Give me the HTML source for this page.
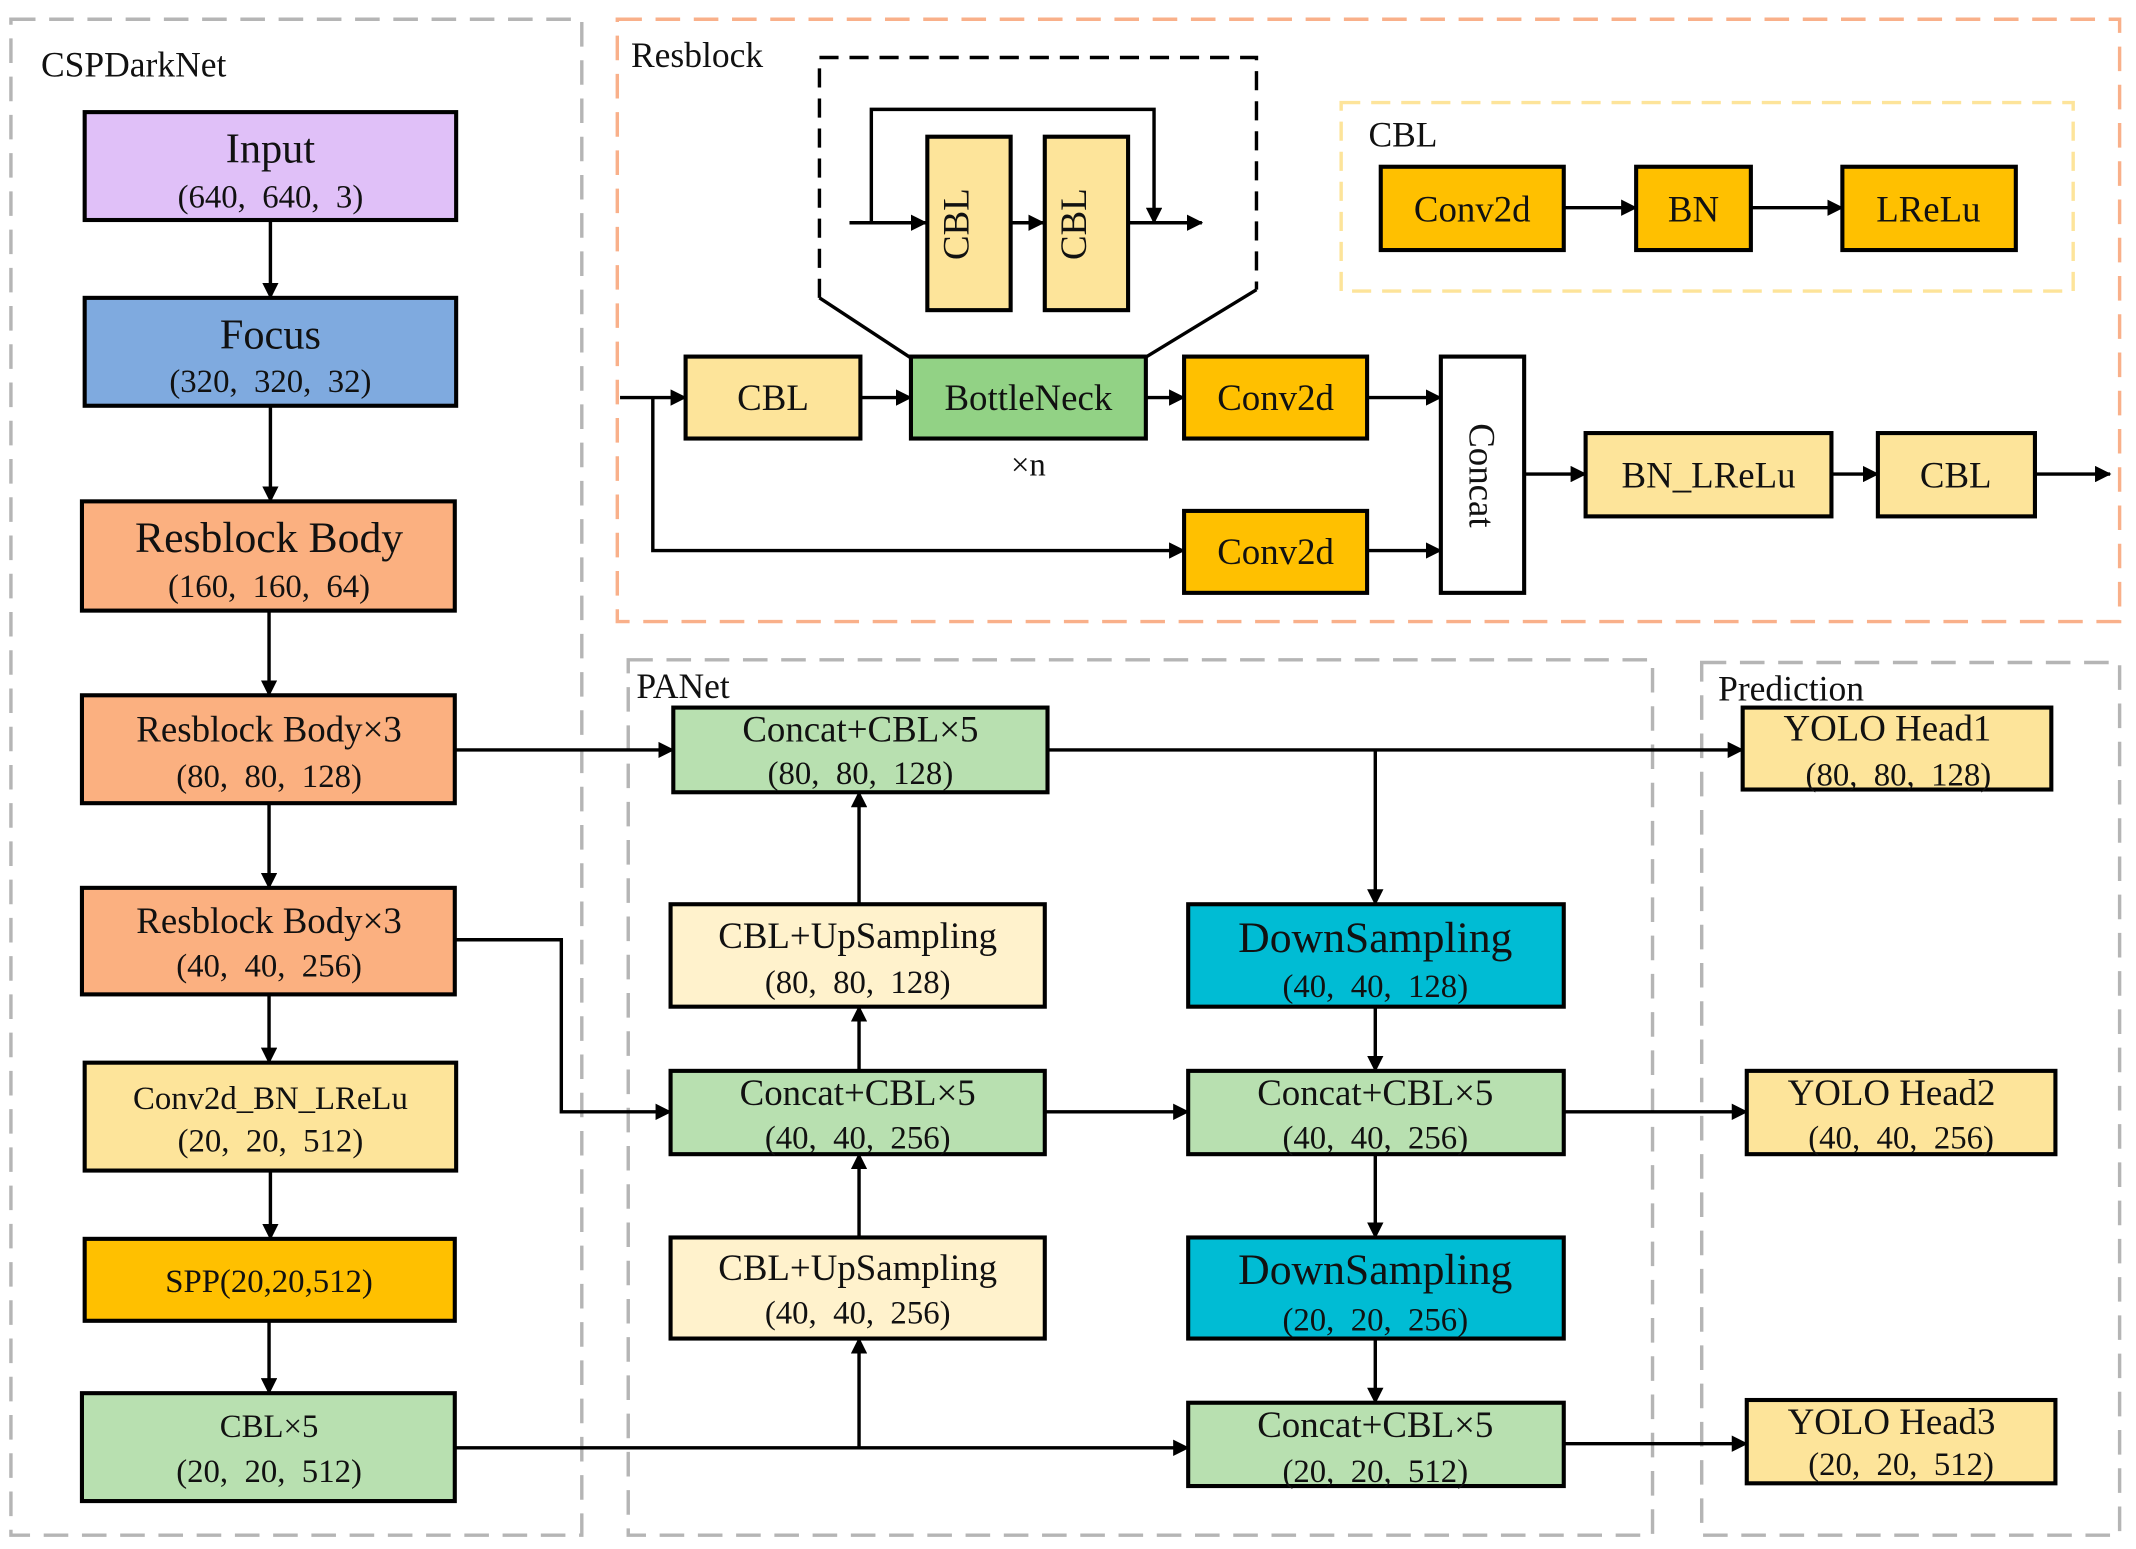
<!DOCTYPE html>
<html><head><meta charset="utf-8"><style>
html,body{margin:0;padding:0;background:#fff}
svg{display:block}
text{font-family:"Liberation Serif","Noto Serif CJK SC",serif;fill:#111;white-space:pre}
</style></head><body>
<svg width="2136" height="1549" viewBox="0 0 1564 1134" xmlns="http://www.w3.org/2000/svg" xml:space="preserve">
<defs>
<marker id="a" markerWidth="12" markerHeight="12" refX="11" refY="6" orient="auto" markerUnits="userSpaceOnUse">
<path d="M0,0 L12,6 L0,12 z" fill="#000"/></marker>
</defs>
<g fill="none" stroke-width="2.5">
<rect x="8" y="14" width="418" height="1110" stroke="#b5b5b5" stroke-dasharray="18,10"/>
<rect x="452" y="14" width="1100" height="441" stroke="#f9b08a" stroke-dasharray="18,10"/>
<rect x="460" y="483" width="750" height="641" stroke="#b5b5b5" stroke-dasharray="18,10"/>
<rect x="1246" y="485" width="306" height="639" stroke="#b5b5b5" stroke-dasharray="18,10"/>
<rect x="982" y="75" width="536" height="138" stroke="#fde49a" stroke-dasharray="14,8"/>
<path d="M600,218 L600,42 L920,42 L920,212" stroke="#000" stroke-dasharray="14,8"/>
<path d="M667,262 L600,218 M920,212 L838,262" stroke="#000"/>
</g>
<g font-size="26">
<text x="30" y="56">CSPDarkNet</text>
<text x="462" y="49">Resblock</text>
<text x="1002" y="107">CBL</text>
<text x="466" y="511">PANet</text>
<text x="1258" y="513">Prediction</text>
</g>
<g stroke="#000" stroke-width="3">
<rect x="62" y="82" width="272" height="79" fill="#e0c0f8"/>
<rect x="62" y="218" width="272" height="79" fill="#7faadf"/>
<rect x="60" y="367" width="273" height="80" fill="#fbb080"/>
<rect x="60" y="509" width="273" height="79" fill="#fbb080"/>
<rect x="60" y="650" width="273" height="78" fill="#fbb080"/>
<rect x="62" y="778" width="272" height="79" fill="#fde49a"/>
<rect x="62" y="907" width="271" height="60" fill="#ffc000"/>
<rect x="60" y="1020" width="273" height="79" fill="#b8e0b0"/>
<rect x="679" y="100" width="61" height="127" fill="#fde49a"/>
<rect x="765" y="100" width="61" height="127" fill="#fde49a"/>
<rect x="502" y="261" width="128" height="60" fill="#fde49a"/>
<rect x="667" y="261" width="172" height="60" fill="#92d285"/>
<rect x="867" y="261" width="134" height="60" fill="#ffc000"/>
<rect x="867" y="374" width="134" height="60" fill="#ffc000"/>
<rect x="1055" y="261" width="61" height="173" fill="#fff"/>
<rect x="1161" y="317" width="180" height="61" fill="#fde49a"/>
<rect x="1375" y="317" width="115" height="61" fill="#fde49a"/>
<rect x="1011" y="122" width="134" height="61" fill="#ffc000"/>
<rect x="1198" y="122" width="84" height="61" fill="#ffc000"/>
<rect x="1349" y="122" width="127" height="61" fill="#ffc000"/>
<rect x="493" y="518" width="274" height="62" fill="#b8e0b0"/>
<rect x="491" y="662" width="274" height="75" fill="#fff2cc"/>
<rect x="491" y="784" width="274" height="61" fill="#b8e0b0"/>
<rect x="491" y="906" width="274" height="74" fill="#fff2cc"/>
<rect x="870" y="662" width="275" height="75" fill="#00bcd4"/>
<rect x="870" y="784" width="275" height="61" fill="#b8e0b0"/>
<rect x="870" y="906" width="275" height="74" fill="#00bcd4"/>
<rect x="870" y="1027" width="275" height="61" fill="#b8e0b0"/>
<rect x="1276" y="518" width="226" height="60" fill="#fde49a"/>
<rect x="1279" y="784" width="226" height="61" fill="#fde49a"/>
<rect x="1279" y="1025" width="226" height="61" fill="#fde49a"/>
</g>
<g stroke="#000" stroke-width="2.5" fill="none" marker-end="url(#a)">
<path d="M198,161V218"/><path d="M198,297V367"/><path d="M197,447V509"/>
<path d="M197,588V650"/><path d="M197,728V778"/><path d="M198,857V907"/><path d="M197,967V1020"/>
<path d="M622,163H678"/><path d="M740,163H764"/><path d="M826,163H880"/>
<path d="M638,163V80H845V163" />
<path d="M454,291H502"/><path d="M630,291H667"/><path d="M839,291H867"/>
<path d="M1001,291H1055"/><path d="M478,291V403H867"/><path d="M1001,403H1055"/>
<path d="M1116,347H1161"/><path d="M1341,347H1375"/><path d="M1490,347H1545"/>
<path d="M1145,152H1198"/><path d="M1282,152H1349"/>
<path d="M334,549H493"/><path d="M767,549H1276"/><path d="M1007,549V662"/>
<path d="M629,662V580"/><path d="M629,784V737"/><path d="M629,906V845"/>
<path d="M334,1060H870"/><path d="M629,1060V980"/>
<path d="M334,688H411V814H491"/><path d="M765,814H870"/><path d="M1145,814H1279"/>
<path d="M1007,737V784"/><path d="M1007,845V906"/><path d="M1007,980V1027"/>
<path d="M1145,1057H1279"/>
</g>
<g text-anchor="middle" font-size="24">
<text x="198" y="119" font-size="31">Input</text><text x="198" y="152">(640,  640,  3)</text>
<text x="198" y="255" font-size="31">Focus</text><text x="198" y="287">(320,  320,  32)</text>
<text x="197" y="404" font-size="32">Resblock Body</text><text x="197" y="437">(160,  160,  64)</text>
<text x="197" y="543" font-size="27">Resblock Body×3</text><text x="197" y="576">(80,  80,  128)</text>
<text x="197" y="683" font-size="27">Resblock Body×3</text><text x="197" y="715">(40,  40,  256)</text>
<text x="198" y="812">Conv2d_BN_LReLu</text><text x="198" y="843">(20,  20,  512)</text>
<text x="197" y="946">SPP(20,20,512)</text>
<text x="197" y="1052">CBL×5</text><text x="197" y="1085">(20,  20,  512)</text>
<text x="566" y="300" font-size="27">CBL</text>
<text x="753" y="300" font-size="27">BottleNeck</text>
<text x="934" y="300" font-size="27">Conv2d</text>
<text x="934" y="413" font-size="27">Conv2d</text>
<text x="753" y="348">×n</text>
<text x="1251" y="357" font-size="27">BN_LReLu</text>
<text x="1432" y="357" font-size="27">CBL</text>
<text x="1078" y="162" font-size="27">Conv2d</text>
<text x="1240" y="162" font-size="27">BN</text>
<text x="1412" y="162" font-size="27">LReLu</text>
<text transform="translate(700,164) rotate(-90)" font-size="27" dy="9">CBL</text>
<text transform="translate(786,164) rotate(-90)" font-size="27" dy="9">CBL</text>
<text transform="translate(1085,348) rotate(90)" font-size="27" dy="9">Concat</text>
<text x="630" y="543" font-size="27">Concat+CBL×5</text><text x="630" y="574">(80,  80,  128)</text>
<text x="628" y="694" font-size="27">CBL+UpSampling</text><text x="628" y="727">(80,  80,  128)</text>
<text x="628" y="809" font-size="27">Concat+CBL×5</text><text x="628" y="841">(40,  40,  256)</text>
<text x="628" y="937" font-size="27">CBL+UpSampling</text><text x="628" y="969">(40,  40,  256)</text>
<text x="1007" y="697" font-size="32">DownSampling</text><text x="1007" y="730">(40,  40,  128)</text>
<text x="1007" y="809" font-size="27">Concat+CBL×5</text><text x="1007" y="841">(40,  40,  256)</text>
<text x="1007" y="940" font-size="32">DownSampling</text><text x="1007" y="974">(20,  20,  256)</text>
<text x="1007" y="1052" font-size="27">Concat+CBL×5</text><text x="1007" y="1085">(20,  20,  512)</text>
<text x="1382" y="542" font-size="27">YOLO Head1</text><text x="1390" y="575">(80,  80,  128)</text>
<text x="1385" y="809" font-size="27">YOLO Head2</text><text x="1392" y="841">(40,  40,  256)</text>
<text x="1385" y="1050" font-size="27">YOLO Head3</text><text x="1392" y="1080">(20,  20,  512)</text>
</g>
</svg>
</body></html>
